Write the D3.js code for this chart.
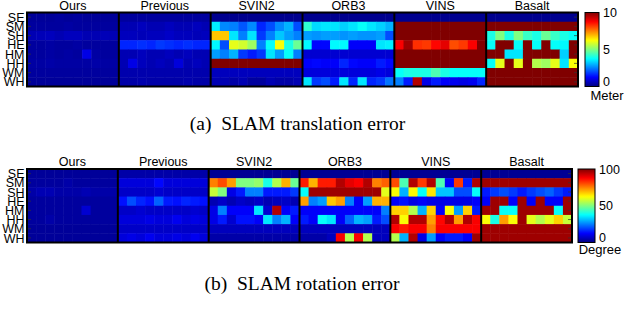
<!DOCTYPE html>
<html><head><meta charset="utf-8">
<script src="https://cdn.jsdelivr.net/npm/d3@7"></script>
<style>body{margin:0;background:#fff}svg{display:block}</style>
</head><body>
<svg id="c" width="640" height="316"></svg>
<script>
const methods = ["Ours","Previous","SVIN2","ORB3","VINS","Basalt"];
const rowLabels = ["SE","SM","SH","HE","HM","HH","WM","WH"];
const transTicks = [0,5,10];
const rotTicks = [0,50,100];

// Translation error (meter), rows SE..WH, 10 trials each
const oursT = [
 [0.25,0.25,0.25,0.3,0.25,0.3,0.25,0.25,0.25,0.25],
 [0.3,0.3,0.3,0.3,0.35,0.3,0.3,0.3,0.3,0.3],
 [0.5,0.55,0.6,0.5,0.6,0.6,0.5,0.5,0.55,0.5],
 [0.3,0.3,0.35,0.3,0.3,0.35,0.3,0.3,0.3,0.3],
 [0.3,0.3,0.35,0.3,0.35,0.3,1.0,0.35,0.3,0.3],
 [0.35,0.35,0.4,0.35,0.35,0.35,0.35,0.4,0.35,0.35],
 [0.3,0.3,0.3,0.3,0.3,0.3,0.3,0.3,0.3,0.3],
 [0.25,0.25,0.25,0.25,0.25,0.25,0.25,0.25,0.25,0.25]];
const previousT = [
 [0.3,0.3,0.3,0.3,0.3,0.3,0.3,0.3,0.3,0.3],
 [0.5,0.5,0.6,0.5,0.5,0.6,0.5,0.5,0.6,0.5],
 [0.6,0.6,0.55,0.6,0.6,0.7,0.6,0.6,0.55,0.6],
 [1.6,1.6,1.7,1.6,1.8,1.7,1.6,1.7,1.6,1.6],
 [0.5,0.5,0.6,0.5,0.5,0.6,0.5,0.6,0.5,0.5],
 [0.5,1.0,0.6,0.5,0.6,0.5,0.9,0.5,0.6,0.5],
 [0.45,0.45,0.45,0.45,0.45,0.45,0.45,0.45,0.45,0.45],
 [0.4,0.4,0.45,0.4,0.4,0.4,0.4,0.45,0.4,0.4]];
const svin2T = [
 [0.15,0.15,0.15,0.15,0.15,0.15,0.15,0.15,0.15,0.15],
 [3.6,2.6,2.5,2.1,2.6,1.6,2.0,2.6,3.0,2.0],
 [6.8,6.8,3.5,2.5,3.5,1.8,2.5,3.2,2.8,2.5],
 [3.7,2.0,6.0,5.8,5.3,2.5,3.8,6.2,4.0,4.8],
 [2.8,2.5,3.0,1.8,1.5,1.8,3.5,2.8,3.8,2.5],
 [10,10,10,10,10,10,10,10,10,10],
 [0.6,0.6,0.6,0.6,0.6,0.6,0.6,0.6,0.6,0.6],
 [0.5,0.5,0.4,0.5,0.3,0.3,0.5,0.4,0.4,0.5]];
const orb3T = [
 [0.15,0.15,0.15,0.15,0.15,0.15,0.15,0.15,0.15,0.15],
 [4.2,3.4,3.5,3.5,3.3,3.5,3.8,3.5,3.3,3.0],
 [2.8,2.7,2.8,2.8,2.7,2.8,2.7,2.7,2.8,2.0],
 [3.7,1.3,1.3,3.7,3.7,1.2,1.2,1.2,3.5,3.6],
 [0.8,0.8,0.8,0.8,0.8,0.8,0.8,0.8,0.8,0.8],
 [1.2,1.3,1.2,1.2,1.6,1.3,1.2,1.2,1.5,1.3],
 [0.9,0.9,0.9,0.9,0.9,0.9,0.9,0.9,1.0,0.9],
 [3.5,1.8,2.0,1.5,3.5,1.6,3.5,1.6,1.8,2.4]];
const vinsT = [
 [0.15,0.15,0.15,0.15,0.15,0.15,0.15,0.15,0.15,0.15],
 [10,10,10,10,10,10,10,10,10,10],
 [10,10,10,10,10,10,10,10,10,10],
 [8.8,9.7,8.3,8.2,8.7,9.0,8.0,8.2,8.8,10],
 [10,10,10,10,10,10,10,10,10,10],
 [10,10,10,10,10,10,10,10,10,10],
 [3.8,4.0,4.0,4.0,4.5,4.0,3.8,3.8,3.8,3.8],
 [2.5,1.5,9.5,1.0,1.5,1.2,1.1,1.0,1.1,1.6]];
const basaltT = [
 [0.15,0.15,0.15,0.15,0.15,0.15,0.15,0.15,0.15,0.15],
 [10,10,10,10,10,10,10,10,10,10],
 [4.0,5.0,4.0,5.0,4.3,4.0,4.8,4.3,4.0,3.8],
 [3.8,10,10,3.8,10,3.8,10,3.8,3.7,10],
 [10,10,3.5,3.5,10,10,10,10,3.3,10],
 [3.8,6.0,10,6.0,10,5.5,5.3,6.0,3.5,6.2],
 [10,10,10,10,10,10,10,10,10,10],
 [10,10,10,10,10,10,10,10,10,10]];

// Rotation error (degree)
const oursR = [
 [2.5,2.5,2.5,2.5,2.5,2.5,2.5,2.5,2.5,2.5],
 [3,3,3,3,4,3,3,3,3,3],
 [4,5,5,4,4,4,5,4,4,4],
 [3,3,3,3,3,3,3,3,3,3],
 [3,3,3,3,3,3,8,3,3,3],
 [3,3,4,3,3,3,3,3,3,3],
 [2.5,2.5,2.5,2.5,2.5,2.5,2.5,2.5,2.5,2.5],
 [2.5,2.5,2.5,2.5,2.5,2.5,2.5,2.5,2.5,2.5]];
const previousR = [
 [4,4,4,4,4,4,4,4,4,4],
 [9,9,9,9,13,9,9,9,9,9],
 [7,7,7,7,8,7,7,7,7,7],
 [14,20,16,14,22,15,14,16,15,14],
 [7,7,8,7,7,7,7,7,8,7],
 [9,9,9,10,9,9,11,9,10,9],
 [7,7,7,7,7,7,7,7,7,7],
 [9,10,9,11,9,9,10,9,11,9]];
const svin2R = [
 [2,2,2,2,2,2,2,2,2,2],
 [75,80,72,50,50,52,40,55,70,48],
 [57,50,10,15,25,25,15,15,15,18],
 [5,7,5,7,6,7,5,6,7,5],
 [10,25,12,12,12,35,8,95,12,15],
 [10,15,8,14,14,12,35,25,30,12],
 [6,6,6,6,6,6,6,6,6,6],
 [4,4,4,4,4,4,4,4,4,4]];
const orb3R = [
 [2,2,2,2,2,2,2,2,2,2],
 [85,70,85,85,95,90,88,95,75,78],
 [38,97,97,97,97,97,97,97,97,60],
 [72,25,28,68,72,25,12,28,70,70],
 [12,12,12,12,12,12,12,12,12,25],
 [15,12,38,35,12,22,30,28,15,20],
 [6,6,6,6,6,6,6,6,6,6],
 [4,4,4,6,88,55,88,55,6,6]];
const vinsR = [
 [2,2,2,2,2,2,2,2,2,2],
 [80,45,95,82,95,45,12,82,15,95],
 [62,30,63,38,65,32,32,20,20,38],
 [12,14,10,12,10,10,10,10,10,12],
 [67,67,55,30,67,12,62,28,67,15],
 [95,62,95,95,72,87,95,72,95,88],
 [88,85,88,88,75,88,88,88,88,88],
 [55,30,95,10,28,12,15,15,12,97]];
const basaltR = [
 [2,2,2,2,2,2,2,2,2,2],
 [97,97,97,97,97,97,97,97,97,97],
 [15,18,20,18,15,18,20,22,18,15],
 [12,97,97,12,97,12,97,12,12,97],
 [97,97,38,38,97,97,97,97,38,97],
 [62,40,72,62,97,60,55,60,67,57],
 [97,97,97,97,97,97,97,97,97,97],
 [97,97,97,97,97,97,97,97,97,97]];

const transData = [oursT,previousT,svin2T,orb3T,vinsT,basaltT];
const rotData = [oursR,previousR,svin2R,orb3R,vinsR,basaltR];

function jet(t){
  t = Math.max(0, Math.min(1, t));
  const f = (x)=>Math.max(0, Math.min(1, x));
  const r = f(Math.min(4*t-1.5, -4*t+4.5));
  const g = f(Math.min(4*t-0.5, -4*t+3.5));
  const b = f(Math.min(4*t+0.5, -4*t+2.5));
  return d3.rgb(r*255, g*255, b*255).toString();
}

const svg = d3.select("#c");
const SANS = "Liberation Sans, Arial, sans-serif";

function drawHeat(cfg){
  const {data, x0, x1, y0, y1, max, ticks, unit, cbx, cbw, titleY, unitX, unitY} = cfg;
  const g = svg.append("g");
  const panel = d3.scaleBand().domain(methods).range([x0, x1]);
  const col = d3.scaleBand().domain(d3.range(10)).range([0, panel.bandwidth()]);
  const row = d3.scaleBand().domain(rowLabels).range([y0, y1]);
  const color = d3.scaleSequential(jet).domain([0, max]);

  methods.forEach((m, mi) => {
    const pg = g.append("g").attr("transform", `translate(${panel(m)},0)`);
    data[mi].forEach((vals, ri) => {
      pg.selectAll(null).data(vals).join("rect")
        .attr("x", (d,i)=>col(i))
        .attr("y", row(rowLabels[ri]))
        .attr("width", col.bandwidth()+0.5)
        .attr("height", row.bandwidth()+0.5)
        .attr("fill", d=>color(d));
    });
    g.append("text").attr("x", panel(m)+panel.bandwidth()/2).attr("y", titleY)
      .attr("text-anchor","middle").attr("font-family",SANS)
      .attr("font-size",12.5).text(m);
  });
  rowLabels.forEach(r => {
    const yy = row(r)+row.bandwidth()/2;
    g.append("line").attr("x1",x0).attr("x2",x0+4).attr("y1",yy).attr("y2",yy).attr("stroke","#333").attr("stroke-width",0.7);
    g.append("line").attr("x1",x1-4).attr("x2",x1).attr("y1",yy).attr("y2",yy).attr("stroke","#333").attr("stroke-width",0.7);
  });
  methods.forEach((m, mi) => {
    if (mi>0) g.append("line").attr("x1",panel(m)).attr("x2",panel(m)).attr("y1",y0).attr("y2",y1)
      .attr("stroke","#000").attr("stroke-width",2);
  });
  g.append("rect").attr("x",x0).attr("y",y0).attr("width",x1-x0).attr("height",y1-y0)
    .attr("fill","none").attr("stroke","#000").attr("stroke-width",2);
  const lab = g.append("g").attr("font-family",SANS).attr("font-size",12.5);
  rowLabels.forEach(r => {
    lab.append("text").attr("x", x0-2.5).attr("y", row(r)+row.bandwidth()/2+4.6)
      .attr("text-anchor","end").text(r);
  });
  const gid = "grad"+unit;
  const grad = svg.append("defs").append("linearGradient").attr("id",gid)
    .attr("x1",0).attr("y1",1).attr("x2",0).attr("y2",0);
  d3.range(0,1.0001,0.02).forEach(t => grad.append("stop").attr("offset",t).attr("stop-color",jet(t)));
  const cy = d3.scaleLinear().domain([0,max]).range([y1, y0]);
  g.append("rect").attr("x",cbx).attr("y",y0).attr("width",cbw).attr("height",y1-y0)
    .attr("fill",`url(#${gid})`).attr("stroke","#000").attr("stroke-width",1);
  const ax = d3.axisRight(cy).tickValues(ticks).tickSize(0).tickPadding(4);
  const axg = g.append("g").attr("transform",`translate(${cbx+cbw},0)`).call(ax);
  axg.select(".domain").remove();
  axg.selectAll("text").attr("font-family",SANS).attr("font-size",12.5).attr("fill","#000");
  axg.selectAll(".tick").filter(d=>d===0).select("text").attr("dy","-0.05em");
  g.append("text").attr("x", unitX).attr("y", unitY).attr("text-anchor","middle")
    .attr("font-family",SANS).attr("font-size",13).text(unit);
}

drawHeat({data: transData, x0:27, x1:578, y0:12.5, y1:86.5, max:10, ticks:transTicks, unit:"Meter", cbx:585, cbw:14, titleY:9.5, unitX:607, unitY:100});
drawHeat({data: rotData, x0:27, x1:572, y0:169, y1:242.5, max:100, ticks:rotTicks, unit:"Degree", cbx:578, cbw:17, titleY:166, unitX:600, unitY:254});

svg.append("text").attr("x",297.5).attr("y",130).attr("text-anchor","middle")
  .attr("font-family","Liberation Serif, Times New Roman, serif").attr("font-size",19.5)
  .attr("xml:space","preserve").text("(a)  SLAM translation error");
svg.append("text").attr("x",302).attr("y",290).attr("text-anchor","middle")
  .attr("font-family","Liberation Serif, Times New Roman, serif").attr("font-size",19.5)
  .attr("xml:space","preserve").text("(b)  SLAM rotation error");
</script>
</body></html>
